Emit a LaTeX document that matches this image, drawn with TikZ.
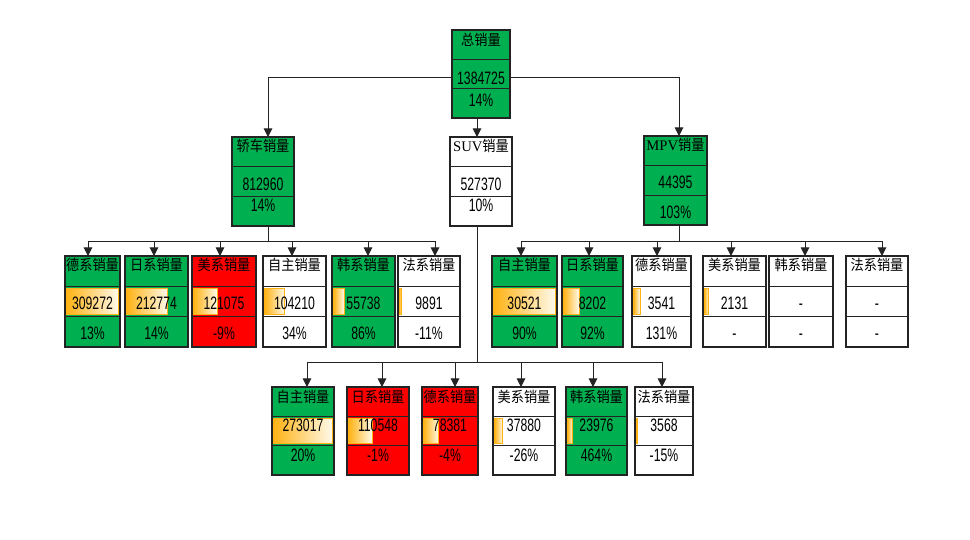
\documentclass[tikz,border=0pt]{standalone}
\usepackage{fontspec}
\setmainfont{Liberation Sans}[FakeStretch=0.68]
\newfontfamily\cjk{Noto Sans CJK SC}[FakeStretch=0.9]
\newfontfamily\ser{Liberation Serif}
\usetikzlibrary{calc,arrows.meta}
\definecolor{xgreen}{RGB}{0,176,80}
\definecolor{xred}{RGB}{255,0,0}
\definecolor{barorg}{RGB}{255,178,20}
\definecolor{barpale}{RGB}{255,250,235}
\definecolor{linec}{RGB}{35,35,35}
\tikzset{
 cell/.style={draw=linec, line width=0.8pt, inner sep=0pt, outer sep=0pt, rectangle},
 divider/.style={draw=linec, line width=0.8pt},
 databar/.style={left color=barorg, right color=barpale, draw=barorg, line width=0.6pt},
 ttl/.style={font=\cjk\fontsize{11}{13}\selectfont, inner sep=0pt, text height=9.6pt, text depth=1.4pt},
 num/.style={font=\fontsize{13.5}{15}\selectfont, inner sep=0pt, text height=9.7pt, text depth=0pt},
 conn/.style={draw=linec, line width=0.75pt},
 arr/.style={conn, -{Triangle[width=6.5pt,length=6.5pt]}},
}
\newcommand\myCellFrame[7]{%
  \pgfmathsetmacro\myCW{(#3-#2)*0.75}%
  \pgfmathsetmacro\myCH{(#5-#4)*0.75}%
  \node[cell, fill=#6, minimum width=\myCW pt, minimum height=\myCH pt] (#1) at ({(#2+#3)/2},{(#4+#5)/2}) {};
  \pgfmathsetmacro\myYA{#4+(#5-#4)/3}%
  \pgfmathsetmacro\myYB{#4+2*(#5-#4)/3}%
  \ifdim #7pt>0pt
    \pgfmathsetmacro\myXE{#2+1.5+#7*(#3-#2-3)}%
    \shade[databar] ({#2+1.5},{\myYA+2}) rectangle (\myXE,{\myYB-2});
  \fi
  \draw[divider] (#2,\myYA) -- (#3,\myYA) (#2,\myYB) -- (#3,\myYB);
}
\newcommand\myCellText[4]{%
  \node[ttl] at ($(#1.north)!\myFA!(#1.south)$) {#2};
  \node[num] at ($(#1.north)!\myFB!(#1.south)$) {#3};
  \node[num] at ($(#1.north)!\myFC!(#1.south)$) {#4};
}
\begin{document}
\begin{tikzpicture}[x=0.75pt,y=-0.75pt]
\fill[white] (0,0) rectangle (970,539);
\useasboundingbox (0,0) rectangle (970,539);

% top level
\def\myFA{0.11}\def\myFB{0.545}\def\myFC{0.80}
\myCellFrame{top}{452}{510}{30}{118}{xgreen}{0}
\myCellText{top}{总销量}{1384725}{14\%}

\def\myFA{0.10}\def\myFB{0.53}\def\myFC{0.76}
\myCellFrame{sedan}{232}{294}{137}{226}{xgreen}{0}
\myCellText{sedan}{轿车销量}{812960}{14\%}
\myCellFrame{suv}{450}{512}{137}{226}{white}{0}
\myCellText{suv}{{\ser SUV}销量}{527370}{10\%}

\def\myFA{0.10}\def\myFB{0.52}\def\myFC{0.85}
\myCellFrame{mpv}{644}{707}{136}{225}{xgreen}{0}
\myCellText{mpv}{{\ser MPV}销量}{44395}{103\%}

% sedan children
\myCellFrame{s1}{65}{120}{256}{347}{xgreen}{1}
\myCellText{s1}{德系销量}{309272}{13\%}
\myCellFrame{s2}{125}{188}{256}{347}{xgreen}{0.688}
\myCellText{s2}{日系销量}{212774}{14\%}
\myCellFrame{s3}{192}{256}{256}{347}{xred}{0.391}
\myCellText{s3}{美系销量}{121075}{-9\%}
\myCellFrame{s4}{263}{326}{256}{347}{white}{0.337}
\myCellText{s4}{自主销量}{104210}{34\%}
\myCellFrame{s5}{332}{395}{256}{347}{xgreen}{0.180}
\myCellText{s5}{韩系销量}{55738}{86\%}
\myCellFrame{s6}{398}{460}{256}{347}{white}{0.032}
\myCellText{s6}{法系销量}{9891}{-11\%}

% MPV children
\myCellFrame{m1}{492}{557}{256}{347}{xgreen}{1}
\myCellText{m1}{自主销量}{30521}{90\%}
\myCellFrame{m2}{562}{623}{256}{347}{xgreen}{0.269}
\myCellText{m2}{日系销量}{8202}{92\%}
\myCellFrame{m3}{632}{691}{256}{347}{white}{0.116}
\myCellText{m3}{德系销量}{3541}{131\%}
\myCellFrame{m4}{703}{766}{256}{347}{white}{0.07}
\myCellText{m4}{美系销量}{2131}{-}
\myCellFrame{m5}{769}{833}{256}{347}{white}{0}
\myCellText{m5}{韩系销量}{-}{-}
\myCellFrame{m6}{846}{908}{256}{347}{white}{0}
\myCellText{m6}{法系销量}{-}{-}

% SUV children
\def\myFA{0.11}\def\myFB{0.43}\def\myFC{0.77}
\myCellFrame{u1}{272}{334}{387}{475}{xgreen}{1}
\myCellText{u1}{自主销量}{273017}{20\%}
\myCellFrame{u2}{347}{409}{387}{475}{xred}{0.405}
\myCellText{u2}{日系销量}{110548}{-1\%}
\myCellFrame{u3}{422}{478}{387}{475}{xred}{0.287}
\myCellText{u3}{德系销量}{78381}{-4\%}
\myCellFrame{u4}{493}{555}{387}{475}{white}{0.139}
\myCellText{u4}{美系销量}{37880}{-26\%}
\myCellFrame{u5}{566}{627}{387}{475}{xgreen}{0.088}
\myCellText{u5}{韩系销量}{23976}{464\%}
\myCellFrame{u6}{635}{693}{387}{475}{white}{0.013}
\myCellText{u6}{法系销量}{3568}{-15\%}

% connectors from top
\coordinate (tl) at (268,77);
\coordinate (tr) at (679,77);
\coordinate (tm) at (477,0);
\draw[arr] (top.west |- tl) -- (tl) -- (sedan.north -| tl);
\draw[arr] (top.east |- tr) -- (tr) -- (mpv.north -| tr);
\draw[arr] (top.south -| tm) -- (suv.north -| tm);

% sedan bus
\coordinate (sb) at (268,241);
\draw[conn] (sedan.south -| sb) -- (sb);
\foreach \n/\d in {s1/-4.5,s2/-2.5,s3/-4,s4/-2.5,s5/4.5,s6/6}{
  \coordinate (\n t) at ([xshift=\d*0.75pt]\n.north);
  \draw[arr] (\n t |- sb) -- (\n t);
}
\draw[conn] (s1t |- sb) -- (s6t |- sb);

% MPV bus
\coordinate (mb) at (679,241);
\draw[conn] (mpv.south -| mb) -- (mb);
\foreach \n/\d in {m1/-3.5,m2/-3.5,m3/-4.5,m4/-3.5,m5/4,m6/5}{
  \coordinate (\n t) at ([xshift=\d*0.75pt]\n.north);
  \draw[arr] (\n t |- mb) -- (\n t);
}
\draw[conn] (m1t |- mb) -- (m6t |- mb);

% SUV bus
\coordinate (ub) at (477,362);
\draw[conn] (suv.south -| ub) -- (ub);
\foreach \n/\d in {u1/4,u2/4,u3/5,u4/-3,u5/-3.5,u6/-2}{
  \coordinate (\n t) at ([xshift=\d*0.75pt]\n.north);
  \draw[arr] (\n t |- ub) -- (\n t);
}
\draw[conn] (u1t |- ub) -- (u6t |- ub);
\end{tikzpicture}
\end{document}
